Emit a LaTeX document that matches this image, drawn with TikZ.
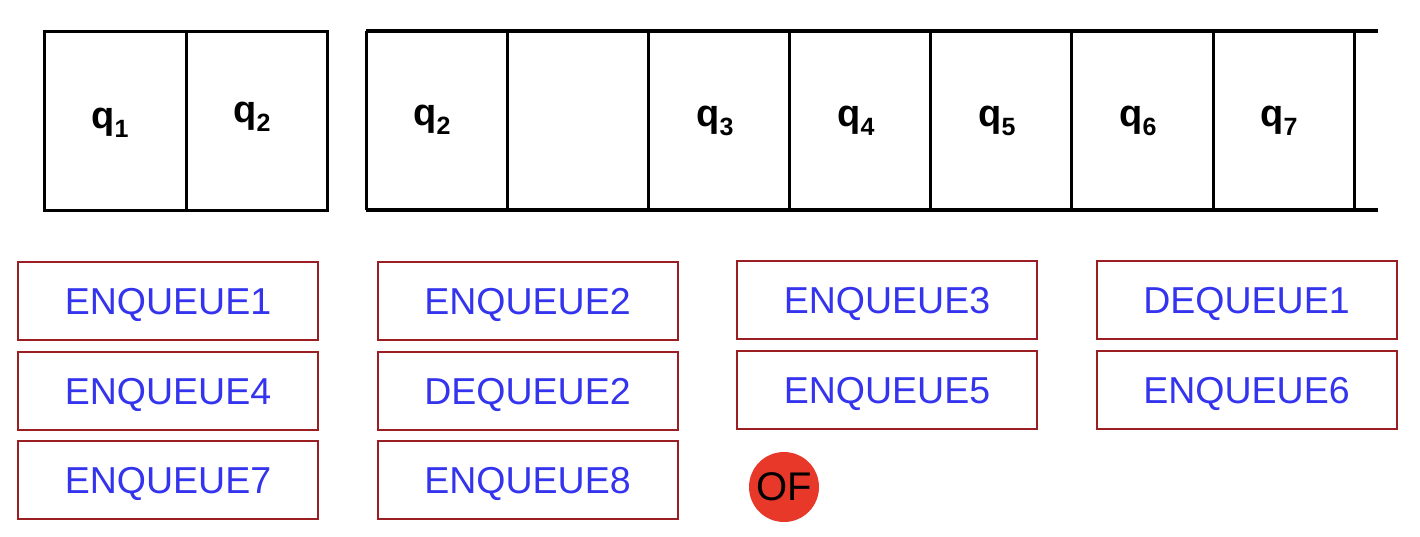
\documentclass[tikz,border=0pt]{standalone}
\usepackage{fontspec}
\setmainfont{Liberation Sans}
\definecolor{boxred}{RGB}{155,30,35}
\definecolor{txtblue}{RGB}{52,52,238}
\definecolor{ofred}{RGB}{232,56,42}
\newcommand{\qlab}[1]{{\fontsize{38}{38}\selectfont\bfseries q\raisebox{-9pt}{\fontsize{25}{25}\selectfont #1}}}
\tikzset{
  opbox/.style={draw=boxred, line width=2pt, minimum width=300pt, minimum height=78pt,
    inner sep=0pt, text=txtblue, font=\fontsize{37.5}{37.5}\selectfont,
    text height=27pt, text depth=0pt},
  qnode/.style={anchor=base, inner sep=0pt},
  cellline/.style={line width=3pt, black},
  railline/.style={line width=4pt, black},
}
\begin{document}
\begin{tikzpicture}[x=1pt,y=-1pt]
\useasboundingbox (0,0) rectangle (1420,536);
% left two cells
\draw[cellline] (44,31) rectangle (327,210);
\draw[cellline] (186,31) -- (186,210);
% long array
\draw[railline] (366,31) -- (1378,31);
\draw[railline] (366,210) -- (1378,210);
\foreach \x in {366,507,648,789,930,1071,1213,1354}
  \draw[cellline] (\x,31) -- (\x,210);
% labels
\node[qnode] (a1) at (110,128) {\qlab{1}};
\node[qnode] (a2) at (252,122) {\qlab{2}};
\node[qnode] (b1) at (432,125) {\qlab{2}};
\node[qnode] (b3) at (715,126) {\qlab{3}};
\node[qnode] (b4) at (856,126) {\qlab{4}};
\node[qnode] (b5) at (997,126) {\qlab{5}};
\node[qnode] (b6) at (1138,126) {\qlab{6}};
\node[qnode] (b7) at (1279,126) {\qlab{7}};
% operation boxes
\node[opbox] (e1) at (168,301) {ENQUEUE1};
\node[opbox] (e2) at (527.5,301) {ENQUEUE2};
\node[opbox] (e3) at (887,300) {ENQUEUE3};
\node[opbox] (d1) at (1246.5,300) {DEQUEUE1};
\node[opbox] (e4) at (168,390.5) {ENQUEUE4};
\node[opbox] (d2) at (527.5,390.5) {DEQUEUE2};
\node[opbox] (e5) at (887,390) {ENQUEUE5};
\node[opbox] (e6) at (1246.5,390) {ENQUEUE6};
\node[opbox] (e7) at (168,480) {ENQUEUE7};
\node[opbox] (e8) at (527.5,480) {ENQUEUE8};
% overflow marker
\node[circle, fill=ofred, minimum size=70pt, inner sep=0pt,
      font=\fontsize{40}{40}\selectfont] (of) at (784,487) {OF};
\end{tikzpicture}
\end{document}
